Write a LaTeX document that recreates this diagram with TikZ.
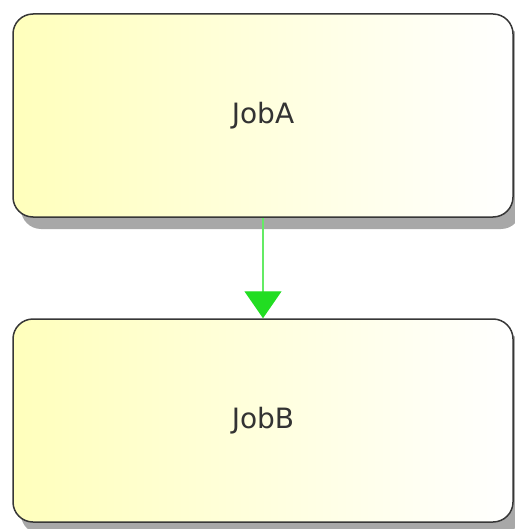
\documentclass[tikz,border=0pt]{standalone}
\usepackage{fontspec}
\setmainfont{DejaVu Sans}
\usetikzlibrary{arrows.meta,shadows}
\definecolor{jobyellow}{RGB}{255,255,188}
\definecolor{jobborder}{RGB}{55,55,55}
\definecolor{shadowgrey}{RGB}{168,168,168}
\definecolor{arrowgreen}{RGB}{34,221,34}
\definecolor{linegreen}{RGB}{100,235,100}
\tikzset{
  jobbox/.style={draw=jobborder, line width=1.5pt, rounded corners=20pt,
    minimum width=500pt, minimum height=203pt, inner sep=0pt,
    left color=jobyellow, right color=white,
    drop shadow={shadow xshift=8pt, shadow yshift=-12pt, fill=shadowgrey, opacity=1},
    font=\fontsize{28}{32}\selectfont, text=black!80},
  flow/.style={draw=linegreen, line width=1.4pt,
    -{Triangle[width=37pt,length=27pt,fill=arrowgreen,color=arrowgreen]}}
}
\begin{document}
\begin{tikzpicture}[x=1pt,y=-1pt]
\useasboundingbox (0,0) rectangle (514,529);
\node[jobbox] (a) at (263,115.5) {JobA};
\node[jobbox] (b) at (263,420.5) {JobB};
\draw[flow] (a.south) -- (b.north);
\end{tikzpicture}
\end{document}
